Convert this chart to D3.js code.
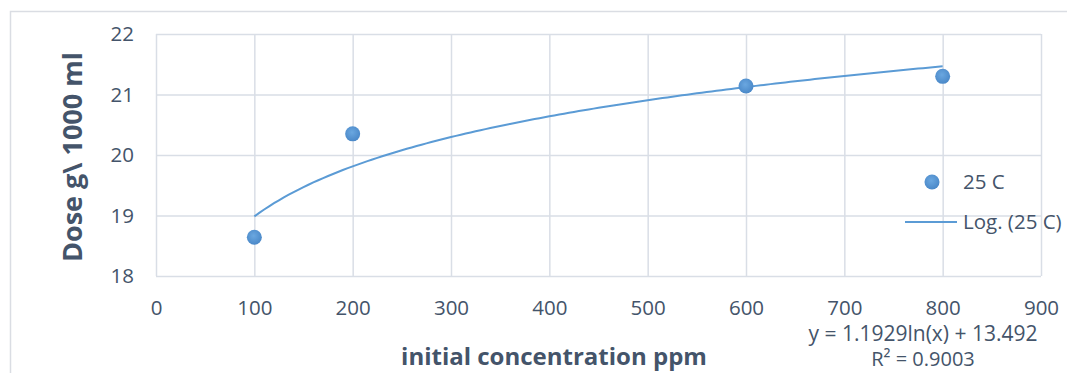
<!DOCTYPE html>
<html>
<head>
<meta charset="utf-8">
<script src="https://cdn.jsdelivr.net/npm/d3@7"></script>
<style>
  body { margin: 0; background: #fff; }
  svg text { font-family: "Open Sans", sans-serif; fill: #44546a; }
</style>
</head>
<body>
<script>
// Data
var concentration = [100, 200, 600, 800];
var dose = [18.64, 20.35, 21.14, 21.30];
var xTicks = [0, 100, 200, 300, 400, 500, 600, 700, 800, 900];
var yTicks = [18, 19, 20, 21, 22];
var seriesName = "25 C";
// trendline as printed on the chart: y = a ln(x) + b
var trendA = 1.1929, trendB = 13.492, trendR2 = "0.9003";

var W = 1067, H = 373;
var margin = {top: 34, right: 26, bottom: 97, left: 156},
    width = 1041 - margin.left,
    height = 276 - margin.top;

var svg = d3.select("body").append("svg")
    .attr("width", W)
    .attr("height", H);

// chart border (only top and left visible)
svg.append("path")
    .attr("d", "M10.5," + H + "V11.5H" + W)
    .style("fill", "none")
    .style("stroke", "#dadde3")
    .style("stroke-width", 1.5);

var g = svg.append("g")
    .attr("transform", "translate(" + margin.left + "," + margin.top + ")");

var x = d3.scaleLinear().domain([0, 900]).range([0, width]);
var y = d3.scaleLinear().domain([18, 22]).range([height, 0]);

// Grid lines
g.append("g")
    .attr("class", "grid")
    .call(d3.axisLeft(y).tickValues(yTicks).tickSize(-width).tickFormat(""))
    .call(function(s) { s.select(".domain").remove(); })
    .selectAll("line").style("stroke", "#d9dee6").style("stroke-width", 1.5);

g.append("g")
    .attr("class", "grid")
    .attr("transform", "translate(0," + height + ")")
    .call(d3.axisBottom(x).tickValues(xTicks).tickSize(-height).tickFormat(""))
    .call(function(s) { s.select(".domain").remove(); })
    .selectAll("line").style("stroke", "#d9dee6").style("stroke-width", 1.5);

// Axis labels
var yaxis = g.append("g")
    .call(d3.axisLeft(y).tickValues(yTicks).tickSize(0).tickPadding(22).tickFormat(d3.format("d")));
yaxis.select(".domain").remove();
yaxis.selectAll("text").style("font-size", "20.5px").style("font-family", "Open Sans");

var xaxis = g.append("g")
    .attr("transform", "translate(0," + height + ")")
    .call(d3.axisBottom(x).tickValues(xTicks).tickSize(0).tickPadding(24).tickFormat(d3.format("d")));
xaxis.select(".domain").remove();
xaxis.selectAll("text").style("font-size", "20.5px").style("font-family", "Open Sans");

// Trendline
var trendX = d3.range(100, 801, 5);
var line = d3.line()
    .x(function(d) { return x(d); })
    .y(function(d) { return y(trendA * Math.log(d) + trendB); });

g.append("path")
    .datum(trendX)
    .attr("d", line)
    .style("fill", "none")
    .style("stroke", "#5b9bd5")
    .style("stroke-width", 2);

// Points
var grad = svg.append("defs").append("radialGradient")
    .attr("id", "dot").attr("cx", "45%").attr("cy", "40%").attr("r", "60%");
grad.append("stop").attr("offset", "0%").attr("stop-color", "#6aa7e0");
grad.append("stop").attr("offset", "100%").attr("stop-color", "#4a88c8");

g.selectAll("circle.pt")
    .data(concentration)
    .enter().append("circle")
    .attr("class", "pt")
    .attr("cx", function(d) { return x(d); })
    .attr("cy", function(d, i) { return y(dose[i]); })
    .attr("r", 7.5)
    .style("fill", "url(#dot)");

// Legend
var leg = svg.append("g");
leg.append("circle")
    .attr("cx", 932).attr("cy", 182).attr("r", 7.5)
    .style("fill", "url(#dot)");
leg.append("text")
    .attr("x", 963).attr("y", 182).attr("dy", "0.35em")
    .style("font-size", "20.5px")
    .text(seriesName);
leg.append("line")
    .attr("x1", 905).attr("x2", 957).attr("y1", 222).attr("y2", 222)
    .style("stroke", "#5b9bd5").style("stroke-width", 2);
leg.append("text")
    .attr("x", 963).attr("y", 222).attr("dy", "0.35em")
    .style("font-size", "20.5px")
    .text("Log. (" + seriesName + ")");

// Trendline label
svg.append("text")
    .attr("x", 923).attr("y", 341)
    .attr("text-anchor", "middle")
    .style("font-size", "21px")
    .text("y = " + trendA + "ln(x) + " + trendB);
svg.append("text")
    .attr("x", 923).attr("y", 366)
    .attr("text-anchor", "middle")
    .style("font-size", "20px")
    .text("R\u00b2 = " + trendR2);

// Axis titles
svg.append("text")
    .attr("x", 554).attr("y", 365)
    .attr("text-anchor", "middle")
    .style("font-size", "24px")
    .style("font-weight", "bold")
    .text("initial concentration ppm");

svg.append("text")
    .attr("transform", "translate(82,157) rotate(-90)")
    .attr("text-anchor", "middle")
    .style("font-size", "27px")
    .style("font-weight", "bold")
    .text("Dose g\\ 1000 ml");
</script>
</body>
</html>
